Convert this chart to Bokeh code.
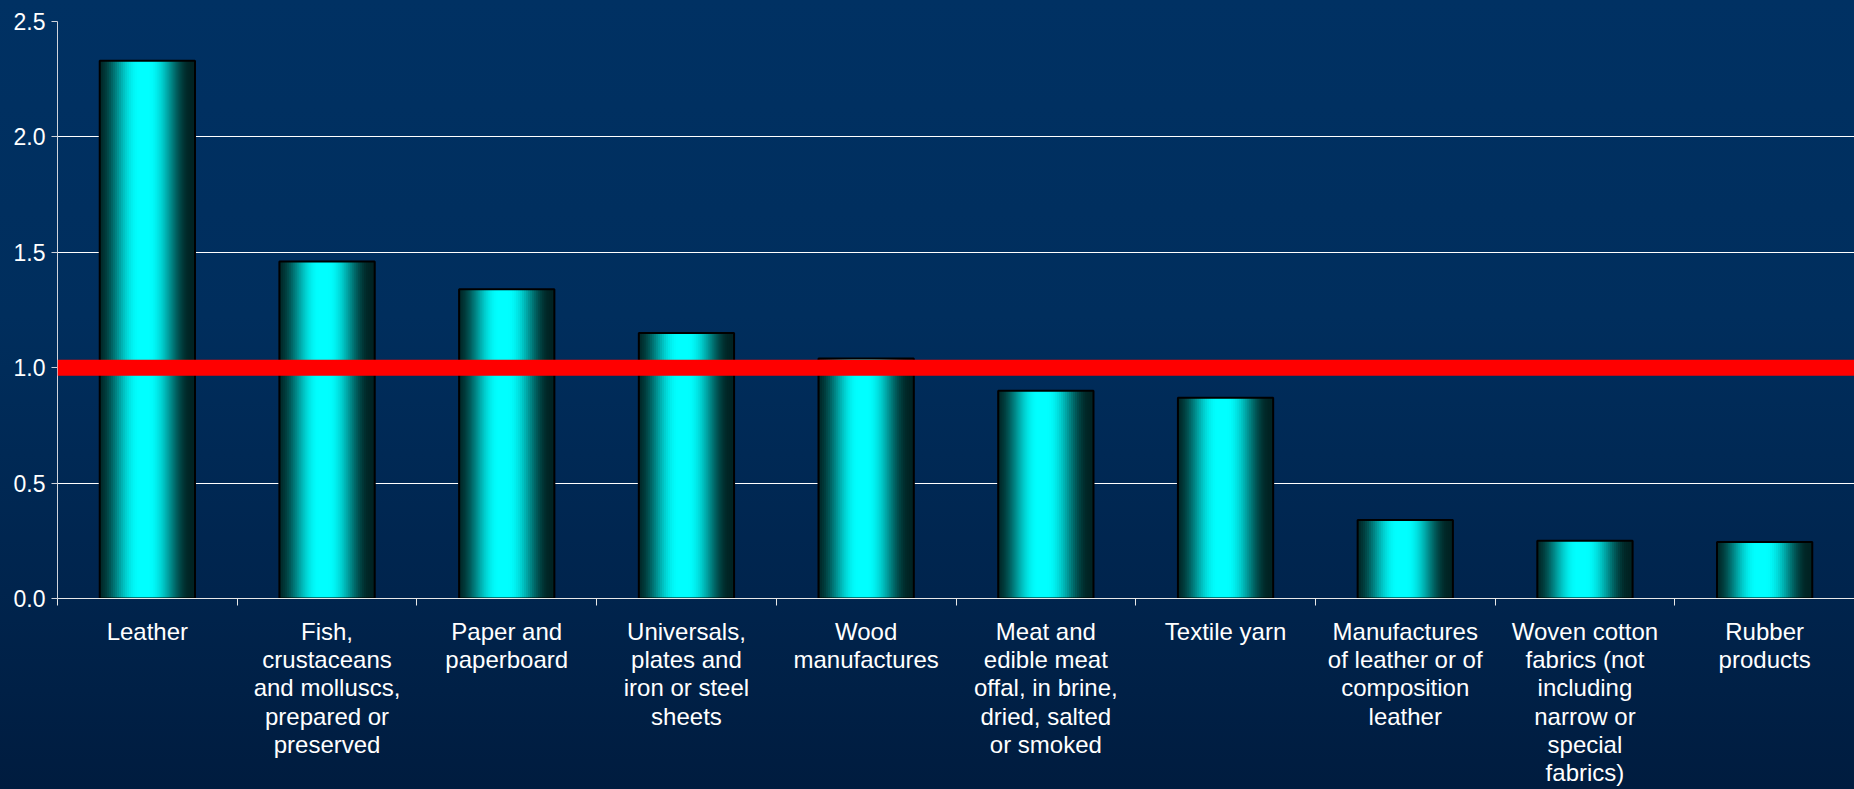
import numpy as np
from bokeh.plotting import figure
from bokeh.models import Range1d, FixedTicker, NumeralTickFormatter, Span
from bokeh.embed import file_html
from bokeh.resources import INLINE

# Product groups (tick labels, wrapped as in the printed table)
categories = [
    "Leather",
    "Fish,\ncrustaceans\nand molluscs,\nprepared or\npreserved",
    "Paper and\npaperboard",
    "Universals,\nplates and\niron or steel\nsheets",
    "Wood\nmanufactures",
    "Meat and\nedible meat\noffal, in brine,\ndried, salted\nor smoked",
    "Textile yarn",
    "Manufactures\nof leather or of\ncomposition\nleather",
    "Woven cotton\nfabrics (not\nincluding\nnarrow or\nspecial\nfabrics)",
    "Rubber\nproducts",
]
values = [2.33, 1.46, 1.34, 1.15, 1.04, 0.90, 0.87, 0.34, 0.25, 0.245]
y_ticks = [0.0, 0.5, 1.0, 1.5, 2.0, 2.5]
benchmark = 1.0

FONT = "Liberation Sans"
n = len(categories)
centers = np.arange(n) + 0.5
bar_w = 0.53

p = figure(
    width=1854, height=789,
    x_range=Range1d(0, n), y_range=Range1d(0, 2.5),
    output_backend="svg", toolbar_location=None,
    min_border_left=57, min_border_right=0,
    min_border_top=21, min_border_bottom=189,
)
p.background_fill_alpha = 0
p.border_fill_alpha = 0
p.outline_line_color = None
p.styles = {"background": "linear-gradient(to bottom, #003163 0%, #002e5d 40%, #00244d 75%, #001c3f 100%)"}

# Horizontal cyan gradient on each bar, built from thin vertical strips
N = 48
t = (np.arange(N) + 0.5) / N
d = np.clip((np.abs(t - 0.47) - 0.05) / 0.45, 0, 1)
shade = 0.14 + 0.86 * (np.cos(np.pi * d) + 1) / 2
strip_colors = ["#%02x%02x%02x" % (0, int(255 * s), int(255 * s)) for s in shade]

strip_x = (centers[:, None] + (t[None, :] - 0.5) * bar_w).ravel()
strip_top = np.repeat(values, N)
p.vbar(x=strip_x, top=strip_top, bottom=0, width=bar_w / N * 1.6,
       fill_color=list(np.tile(strip_colors, n)), line_color=None)
p.vbar(x=centers, top=values, bottom=0, width=bar_w,
       fill_color=None, line_color="black", line_width=2)

# Reference level
p.add_layout(Span(location=benchmark, dimension="width",
                  line_color="#ff0000", line_width=16))

# X axis: labels at category centres, ticks at category boundaries
xa = p.xaxis[0]
xa.ticker = FixedTicker(ticks=list(centers), minor_ticks=list(range(n + 1)))
xa.major_label_overrides = {float(c): lab for c, lab in zip(centers, categories)}
xa.axis_line_color = "#e8e8e8"
xa.axis_line_width = 1
xa.major_tick_line_color = None
xa.major_tick_out = 7
xa.major_tick_in = 0
xa.minor_tick_line_color = "#e8e8e8"
xa.minor_tick_out = 7
xa.minor_tick_in = 0
xa.major_label_text_font = FONT
xa.major_label_text_font_size = "24px"
xa.major_label_text_color = "white"
xa.major_label_text_line_height = 1.05
xa.major_label_standoff = 12

ya = p.yaxis[0]
ya.ticker = FixedTicker(ticks=y_ticks, minor_ticks=[])
ya.formatter = NumeralTickFormatter(format="0.0")
ya.axis_line_color = "#d0d4dc"
ya.major_tick_line_color = "#d0d4dc"
ya.major_tick_out = 6
ya.major_tick_in = 0
ya.minor_tick_line_color = None
ya.major_label_text_font = FONT
ya.major_label_text_font_size = "23px"
ya.major_label_text_color = "white"
ya.major_label_standoff = 6

p.xgrid.visible = False
p.ygrid.ticker = FixedTicker(ticks=y_ticks, minor_ticks=[])
p.ygrid.grid_line_color = "white"
p.ygrid.grid_line_width = 1

open("out.html", "w").write(file_html(p, INLINE))
